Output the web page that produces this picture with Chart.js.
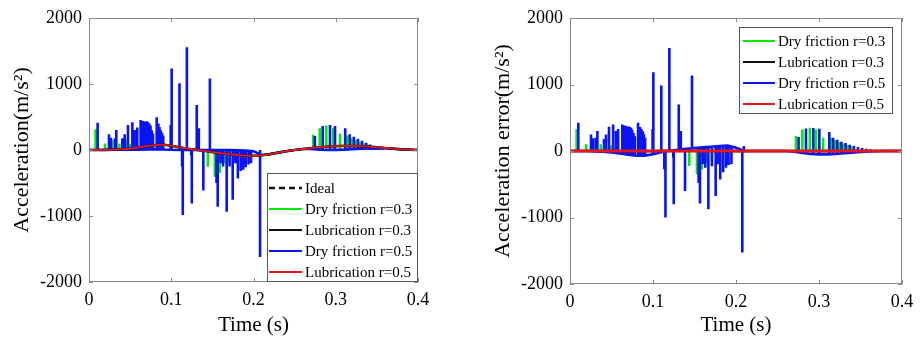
<!DOCTYPE html>
<html>
<head>
<meta charset="utf-8">
<script src="https://cdn.jsdelivr.net/npm/chart.js@4"></script>
<style>
  body { margin: 0; background: #fff; width: 921px; height: 341px; overflow: hidden; position: relative; }
  canvas { position: absolute; top: 0; }
</style>
</head>
<body>
<canvas id="accChart" width="460" height="341" style="left:0"></canvas>
<canvas id="errChart" width="461" height="341" style="left:460px"></canvas>
<script>
const FONT = "'Liberation Serif', 'Times New Roman', serif";

// time grid for the smooth curves (s)
const T = [0, 0.01, 0.02, 0.03, 0.04, 0.05, 0.06, 0.07, 0.08, 0.09, 0.10,
           0.11, 0.12, 0.13, 0.14, 0.15, 0.16, 0.17, 0.18, 0.19, 0.20,
           0.21, 0.22, 0.23, 0.24, 0.25, 0.26, 0.27, 0.28, 0.29, 0.30,
           0.31, 0.32, 0.33, 0.34, 0.35, 0.36, 0.37, 0.38, 0.39, 0.40];

// ---- left panel: acceleration ----
const idealAcc = [0, 0, 2, 5, 12, 22, 38, 58, 75, 82, 65,
                  40, 20, 3, -12, -32, -48, -62, -76, -86, -88,
                  -80, -62, -40, -18, 0, 15, 30, 42, 52, 58,
                  62, 62, 58, 50, 40, 30, 20, 10, 4, 0];
// lubricated runs lie on the ideal curve
const lubAcc03 = idealAcc;
const lubAcc05 = idealAcc;
const accBase05 = [0, 0, 2, 4, 6, 6, 5, 8, 10, 8, 3,
                   0, 0, 0, 0, 0, 0, 0, -3, -8, -20,
                   -75, -62, -40, -18, 0, 15, 15, 5, 0, 0,
                   5, 12, 20, 25, 28, 25, 18, 10, 4, 0];

const accT05 = [0.0105, 0.0243, 0.0267, 0.0316, 0.0332, 0.0405, 0.0434, 0.0474, 0.0527, 0.0555, 0.0587,
                0.0628, 0.0643, 0.0658, 0.0673, 0.0688, 0.0703, 0.0718, 0.0733, 0.0748, 0.0763, 0.0778,
                0.0823, 0.0843, 0.0858, 0.0873, 0.0888, 0.0903, 0.0993, 0.1005, 0.1100, 0.1190, 0.1310, 0.1335, 0.1470,
                0.1132, 0.1140, 0.1243, 0.1250, 0.1390, 0.1550, 0.1565, 0.1600, 0.1630, 0.1674, 0.1710, 0.1747,
                0.1780, 0.1810, 0.1845, 0.1875, 0.1905, 0.1940, 0.1970, 0.2080,
                0.2746, 0.2841, 0.2930, 0.2991, 0.3115, 0.3170, 0.3220, 0.3270, 0.3320, 0.3370, 0.3420,
                0.3470, 0.3520, 0.3570, 0.3620, 0.3680, 0.3750];
const accV05 = [414, 238, 186, 177, 303, 177, 238, 379, 420, 303, 340,
                455, 430, 440, 430, 425, 435, 420, 400, 370, 300, 250,
                495, 400, 350, 300, 260, 220, 380, 1235, 1010, 1555, 680, 330, 1085,
                -250, -985, -80, -810, -615, -500, -860, -200, -250, -935, -250, -755,
                -200, -430, -320, -300, -260, -220, -200, -1620,
                212, 364, 379, 364, 330, 240, 200, 170, 140, 110, 85,
                65, 50, 40, 30, 20, 15];

const accT03 = [0.0080, 0.0195, 0.0284, 0.0370, 0.0415, 0.0450, 0.0495, 0.0570,
                0.1445, 0.1530, 0.1590, 0.1650, 0.1710, 0.1770,
                0.2727, 0.2805, 0.2885, 0.2970, 0.3052, 0.3140, 0.3190, 0.3240, 0.3290, 0.3340, 0.3390, 0.3450, 0.3500];
const accV03 = [313, 100, 150, 100, 140, 160, 90, 110,
                -253, -404, -350, -200, -180, -150,
                230, 330, 370, 330, 250, 220, 180, 150, 120, 100, 80, 60, 45];

// ---- right panel: acceleration error ----
const errBase05 = [0, 0, 0, -5, -12, -22, -38, -55, -70, -70, -50,
                   -20, 5, 20, 35, 45, 55, 65, 75, 80, 50,
                   0, 0, 0, 0, 0, 0, -10, -30, -45, -50,
                   -50, -45, -35, -25, -15, -8, -3, 0, 0, 0];
const lubErr03 = [0, 0, 0, 0, -2, -4, -6, -6, -5, -3, 0,
                  3, 5, 6, 6, 5, 3, 0, -2, -4, -5,
                  -3, 0, 0, 0, 0, 0, 0, -2, -3, -4,
                  -4, -3, -2, -1, 0, 0, 0, 0, 0, 0];
const lubErr05 = [0, 0, 0, 0, 0, 0, 0, 0, 0, 0, 0,
                  0, 0, 0, 0, 0, 0, 0, 0, 0, 0,
                  0, 0, 0, 0, 0, 0, 0, 0, 0, 0,
                  0, 0, 0, 0, 0, 0, 0, 0, 0, 0];

const errT05 = [0.0100, 0.0253, 0.0275, 0.0310, 0.0330, 0.0410, 0.0434, 0.0470, 0.0520, 0.0555, 0.0580,
                0.0630, 0.0645, 0.0660, 0.0675, 0.0690, 0.0705, 0.0720, 0.0735, 0.0750, 0.0765, 0.0780,
                0.0820, 0.0845, 0.0860, 0.0875, 0.0890, 0.0905, 0.0995, 0.1004, 0.1100, 0.1197, 0.1310, 0.1335, 0.1470, 0.2095,
                0.1136, 0.1150, 0.1245, 0.1250, 0.1386, 0.1550, 0.1566, 0.1600, 0.1630, 0.1667, 0.1710, 0.1755,
                0.1780, 0.1810, 0.1845, 0.1880, 0.1910, 0.1945, 0.2076,
                0.2754, 0.2843, 0.2932, 0.3004, 0.3124, 0.3170, 0.3220, 0.3270, 0.3320, 0.3370, 0.3420,
                0.3470, 0.3520, 0.3570, 0.3620, 0.3680, 0.3750];
const errV05 = [425, 250, 190, 200, 300, 180, 250, 365, 400, 300, 330,
                400, 380, 385, 375, 370, 370, 360, 350, 320, 270, 220,
                425, 360, 330, 300, 260, 200, 330, 1185, 985, 1550, 700, 300, 1135, 75,
                -275, -1000, -100, -800, -600, -480, -790, -200, -250, -875, -230, -675,
                -200, -430, -320, -250, -210, -200, -1525,
                210, 340, 345, 335, 285, 200, 170, 140, 120, 95, 75,
                60, 45, 35, 25, 18, 12];
// where each spike leaves the drifting baseline
const errF05 = [0, 0, 0, -3, -4, -10, -12, -15, -20, -25, -30,
                -40, -42, -45, -48, -52, -55, -58, -60, -63, -65, -68,
                -70, -70, -70, -70, -70, -68, -52, -50, -20, 0, 20, 22, 40, 0,
                -15, -10, 10, 10, 30, 45, 48, 50, 52, 55, 60, 65,
                70, 72, 75, 78, 80, 80, 30,
                -20, -35, -45, -50, -50, -48, -45, -40, -35, -30, -25,
                -20, -15, -12, -8, -5, -3];

const errT03 = [0.0080, 0.0195, 0.0280, 0.0370, 0.0410, 0.0495,
                0.1437, 0.1530, 0.1590, 0.1650, 0.1710,
                0.2723, 0.2800, 0.2890, 0.2964, 0.3050, 0.3140, 0.3190, 0.3240, 0.3290, 0.3340, 0.3390];
const errV03 = [330, 100, 150, 100, 150, 90,
                -225, -350, -280, -180, -150,
                225, 325, 350, 325, 200, 200, 160, 130, 110, 90, 70];

const BLUE = '#0a14f2', GREEN = '#00ec00', RED = '#e8141e', BLACK = '#111';

function curve(vals) {
    return T.map((t, i) => ({ x: t, y: vals[i] }));
}

// baseline curve, then each spike as its own vertical stroke (null breaks the path)
function spikyLine(base, times, peaks, feet) {
    const pts = curve(base);
    times.forEach((t, i) => {
        pts.push({ x: t, y: null });
        pts.push({ x: t, y: feet ? feet[i] : 0 });
        pts.push({ x: t, y: peaks[i] });
    });
    return pts;
}

function line(label, data, color, width, dash) {
    return {
        label: label, data: data, borderColor: color, backgroundColor: color,
        borderWidth: width, borderDash: dash || [], pointRadius: 0,
        tension: 0, spanGaps: false, fill: false
    };
}

// box round the plot with inward ticks, as in the original
const framePlugin = {
    id: 'frame',
    afterDatasetsDraw(chart) {
        const { ctx, chartArea: a, scales } = chart;
        ctx.save();
        ctx.strokeStyle = '#8a8a8a';
        ctx.lineWidth = 1;
        ctx.strokeRect(a.left + 0.5, a.top + 0.5, a.right - a.left - 1, a.bottom - a.top - 1);
        ctx.beginPath();
        scales.x.ticks.forEach(tk => {
            const px = Math.round(scales.x.getPixelForValue(tk.value)) + 0.5;
            ctx.moveTo(px, a.bottom); ctx.lineTo(px, a.bottom - 4);
            ctx.moveTo(px, a.top); ctx.lineTo(px, a.top + 4);
        });
        scales.y.ticks.forEach(tk => {
            const py = Math.round(scales.y.getPixelForValue(tk.value)) + 0.5;
            ctx.moveTo(a.left, py); ctx.lineTo(a.left + 4, py);
            ctx.moveTo(a.right, py); ctx.lineTo(a.right - 4, py);
        });
        ctx.stroke();
        ctx.restore();
    }
};

// legend box placed inside the plot
const boxLegendPlugin = {
    id: 'boxLegend',
    afterDraw(chart, args, o) {
        const ctx = chart.ctx;
        ctx.save();
        ctx.fillStyle = '#fff';
        ctx.fillRect(o.x, o.y, o.w, o.h);
        ctx.strokeStyle = '#555';
        ctx.lineWidth = 1;
        ctx.strokeRect(o.x + 0.5, o.y + 0.5, o.w - 1, o.h - 1);
        ctx.font = '15px ' + FONT;
        ctx.textBaseline = 'middle';
        o.order.forEach((label, i) => {
            const ds = chart.data.datasets.find(d => d.label === label);
            const yy = o.y + o.first + i * o.gap;
            ctx.beginPath();
            ctx.setLineDash(ds.borderDash.length ? [6, 4] : []);
            ctx.strokeStyle = ds.borderColor;
            ctx.lineWidth = ds.borderDash.length ? 2.5 : 2;
            ctx.moveTo(o.x + o.l0, yy);
            ctx.lineTo(o.x + o.l1, yy);
            ctx.stroke();
            ctx.setLineDash([]);
            ctx.fillStyle = '#000';
            ctx.fillText(label, o.x + o.tx, yy + 1);
        });
        ctx.restore();
    }
};

function axes(yTitle, yWidth, xHeight, yTitlePad) {
    return {
        x: {
            type: 'linear', min: 0, max: 0.4,
            grid: { display: false, drawTicks: false },
            border: { display: false },
            ticks: { stepSize: 0.1, padding: 7, color: '#000', maxRotation: 0, font: { family: FONT, size: 18 } },
            title: { display: true, text: 'Time (s)', color: '#000', font: { family: FONT, size: 21 }, padding: { top: 0, bottom: 3 } },
            afterFit(s) { s.height = xHeight; }
        },
        y: {
            type: 'linear', min: -2000, max: 2000,
            grid: { display: false, drawTicks: false },
            border: { display: false },
            ticks: { stepSize: 1000, padding: 7, color: '#000', font: { family: FONT, size: 18 }, callback: v => String(v) },
            title: { display: true, text: yTitle, color: '#000', font: { family: FONT, size: 22 }, padding: { top: yTitlePad, bottom: 0 } },
            afterFit(s) { s.width = yWidth; }
        }
    };
}

// left: acceleration
new Chart(document.getElementById('accChart'), {
    type: 'line',
    data: {
        datasets: [
            line('Lubrication r=0.5', curve(lubAcc05), RED, 1.8),
            line('Lubrication r=0.3', curve(lubAcc03), BLACK, 2.2),
            line('Ideal', curve(idealAcc), BLACK, 2, [6, 4]),
            line('Dry friction r=0.5', spikyLine(accBase05, accT05, accV05), BLUE, 2.6),
            line('Dry friction r=0.3', spikyLine(idealAcc, accT03, accV03), GREEN, 2.6)
        ]
    },
    options: {
        responsive: false, animation: false, devicePixelRatio: 1,
        layout: { padding: { left: 0, top: 18, right: 42, bottom: 0 } },
        plugins: {
            legend: { display: false }, tooltip: { enabled: false },
            boxLegend: {
                x: 267, y: 173, w: 151, h: 109, first: 15, gap: 21, l0: 2, l1: 35, tx: 38,
                order: ['Ideal', 'Dry friction r=0.3', 'Lubrication r=0.3', 'Dry friction r=0.5', 'Lubrication r=0.5']
            }
        },
        scales: axes('Acceleration(m/s²)', 89, 59, 9)
    },
    plugins: [framePlugin, boxLegendPlugin]
});

// right: acceleration error
new Chart(document.getElementById('errChart'), {
    type: 'line',
    data: {
        datasets: [
            line('Lubrication r=0.5', curve(lubErr05), RED, 3),
            line('Lubrication r=0.3', curve(lubErr03), BLACK, 2),
            line('Dry friction r=0.5', spikyLine(errBase05, errT05, errV05, errF05), BLUE, 2.6),
            line('Dry friction r=0.3', spikyLine(lubErr05, errT03, errV03), GREEN, 2.6)
        ]
    },
    options: {
        responsive: false, animation: false, devicePixelRatio: 1,
        layout: { padding: { left: 0, top: 18, right: 19, bottom: 0 } },
        plugins: {
            legend: { display: false }, tooltip: { enabled: false },
            boxLegend: {
                x: 279, y: 27, w: 154, h: 87, first: 14, gap: 21, l0: 4, l1: 36, tx: 39,
                order: ['Dry friction r=0.3', 'Lubrication r=0.3', 'Dry friction r=0.5', 'Lubrication r=0.5']
            }
        },
        scales: axes('Acceleration error(m/s²)', 110, 57, 30)
    },
    plugins: [framePlugin, boxLegendPlugin]
});
</script>
</body>
</html>
